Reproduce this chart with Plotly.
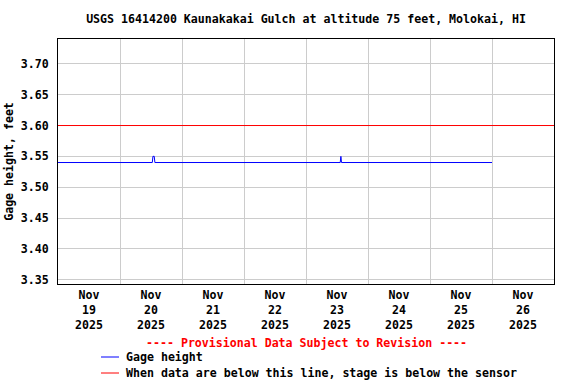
import plotly.graph_objects as go

# Gage height series (15-min readings where the value changes)
gage_times = [
    "2025-11-19 00:00", "2025-11-20 12:30", "2025-11-20 12:45", "2025-11-20 13:00",
    "2025-11-20 13:15", "2025-11-20 13:30", "2025-11-23 13:15", "2025-11-23 13:30",
    "2025-11-23 13:45", "2025-11-26 00:00",
]
gage_values = [3.54, 3.54, 3.55, 3.55, 3.55, 3.54, 3.54, 3.55, 3.54, 3.54]

# Sensor threshold line
sensor_times = ["2025-11-19 00:00", "2025-11-27 00:00"]
sensor_values = [3.60, 3.60]

# Axis ticks
x_tick_vals = ["2025-11-19 12:00", "2025-11-20 12:00", "2025-11-21 12:00", "2025-11-22 12:00",
               "2025-11-23 12:00", "2025-11-24 12:00", "2025-11-25 12:00", "2025-11-26 12:00"]
x_tick_text = ["Nov<br>19<br>2025", "Nov<br>20<br>2025", "Nov<br>21<br>2025", "Nov<br>22<br>2025",
               "Nov<br>23<br>2025", "Nov<br>24<br>2025", "Nov<br>25<br>2025", "Nov<br>26<br>2025"]
x_grid_vals = ["2025-11-20", "2025-11-21", "2025-11-22", "2025-11-23",
               "2025-11-24", "2025-11-25", "2025-11-26"]
y_tick_vals = [3.35, 3.40, 3.45, 3.50, 3.55, 3.60, 3.65, 3.70]

FONT = "DejaVu Sans Mono"
FS = 11.6

fig = go.Figure()
fig.add_trace(go.Scatter(x=sensor_times, y=sensor_values, mode="lines",
                         line=dict(color="#ff0000", width=1), showlegend=False, hoverinfo="skip"))
fig.add_trace(go.Scatter(x=gage_times, y=gage_values, mode="lines",
                         line=dict(color="#0000ff", width=1), showlegend=False))

fig.update_layout(
    width=576, height=384,
    margin=dict(l=58, r=22, t=39, b=100, autoexpand=False),
    paper_bgcolor="white", plot_bgcolor="white",
    font=dict(family=FONT, size=FS, color="black", weight="bold"),
    title=dict(text="USGS 16414200 Kaunakakai Gulch at altitude 75 feet, Molokai, HI",
               x=306 / 576, xanchor="center", y=1 - 19 / 384, yanchor="middle",
               font=dict(family=FONT, size=FS, color="black", weight="bold")),
    xaxis=dict(
        type="date", range=["2025-11-19 00:00", "2025-11-27 00:00"],
        tickmode="array", tickvals=x_tick_vals, ticktext=x_tick_text,
        showgrid=False, ticks="", zeroline=False, automargin=False,
        showline=True, linecolor="black", linewidth=1, mirror=True,
        tickfont=dict(family=FONT, size=FS, color="black", weight="bold"),
        minor=dict(tickmode="array", tickvals=x_grid_vals, showgrid=True,
                   gridcolor="#cccccc", gridwidth=1, ticks=""),
    ),
    yaxis=dict(
        range=[3.3430, 3.7403], tickmode="array", tickvals=y_tick_vals,
        tickformat=".2f", showgrid=True, gridcolor="#cccccc", gridwidth=1,
        ticks="", zeroline=False, ticklabelstandoff=6, automargin=False,
        showline=True, linecolor="black", linewidth=1, mirror=True,
        tickfont=dict(family=FONT, size=FS, color="black", weight="bold"),
        title=dict(text="Gage height, feet", standoff=4,
                   font=dict(family=FONT, size=FS, color="black", weight="bold")),
    ),
)

# Provisional note and legend
fig.add_annotation(text="---- Provisional Data Subject to Revision ----",
                   xref="paper", yref="paper", x=(306 - 58) / 496, y=-(343 - 284) / 245,
                   xanchor="center", yanchor="middle", showarrow=False,
                   font=dict(family=FONT, size=FS, color="#ff0000", weight="bold"))
legend_items = [("Gage height", "#0000ff", 357), ("When data are below this line, stage is below the sensor", "#ff0000", 373)]
for label, color, ypix in legend_items:
    yp = -(ypix - 284) / 245
    fig.add_shape(type="line", xref="paper", yref="paper",
                  x0=(101 - 58) / 496, x1=(119 - 58) / 496, y0=yp, y1=yp,
                  line=dict(color=color, width=1))
    fig.add_annotation(text=label, xref="paper", yref="paper",
                       x=(124 - 58) / 496, y=yp, xanchor="left", yanchor="middle",
                       showarrow=False,
                       font=dict(family=FONT, size=FS, color="black", weight="bold"))

fig.write_html("out.html", config={"displayModeBar": False},
               post_script="document.body.style.margin='0';")
